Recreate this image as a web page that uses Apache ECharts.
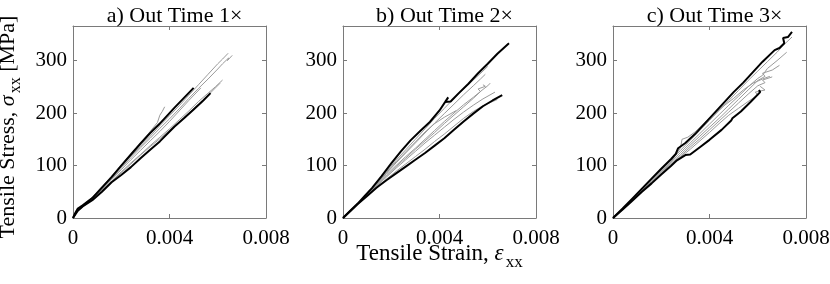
<!DOCTYPE html>
<html>
<head>
<meta charset="utf-8">
<script src="https://cdn.jsdelivr.net/npm/echarts@6/dist/echarts.min.js"></script>
<style>
  html, body { margin: 0; padding: 0; background: #fff; }
  #chart { width: 830px; height: 284px; }
</style>
</head>
<body>
<div id="chart"></div>
<script>
// panel titles and axis ticks
const titles = ['a) Out Time 1\u00d7', 'b) Out Time 2\u00d7', 'c) Out Time 3\u00d7'];
const xTicks = [0, 0.004, 0.008];
const yTicks = [0, 100, 200, 300];
const yTop = 366;

// a) Out Time 1x  -- black = bounding curves, gray = individual tests
const upperA = [[0,0],[0.0001,10],[0.0002,18],[0.0004,24],[0.0008,38],[0.0012,58],[0.0016,78],[0.002,100],[0.0024,121],[0.0028,142],[0.0032,162],[0.0036,180],[0.00352,176],[0.0038,190],[0.0042,210],[0.0046,229],[0.005,248]];
const lowerA = [[0,0],[0.0002,14],[0.0004,22],[0.0008,34],[0.0012,50],[0.0016,68],[0.002,82],[0.0024,97],[0.0028,114],[0.0032,130],[0.0036,146],[0.0039,160],[0.00383,157],[0.0042,174],[0.0046,190],[0.005,207],[0.0054,224],[0.0057,238]];
const grayA1 = [[0,0],[0.0002,15],[0.0004,22],[0.0008,38],[0.0012,56],[0.0016,75],[0.002,95],[0.0024,115],[0.0028,134],[0.0032,152],[0.0036,171],[0.004,189],[0.0044,208],[0.0048,228],[0.0052,247],[0.0056,265],[0.006,284],[0.0062,294],[0.00645,305],[0.0064,300],[0.0066,310]];
const grayA2 = [[0,0],[0.0002,16],[0.0004,23],[0.0008,39],[0.0012,58],[0.0016,78],[0.002,98],[0.0024,118],[0.0028,137],[0.0032,156],[0.0036,176],[0.004,195],[0.0044,214],[0.0048,234],[0.0052,254],[0.0056,274],[0.006,294],[0.0062,303],[0.00643,314]];
const grayA3 = [[0,0],[0.0002,14],[0.0004,21],[0.0008,36],[0.0012,53],[0.0016,70],[0.002,88],[0.0024,105],[0.0028,121],[0.0032,138],[0.0036,154],[0.004,170],[0.0044,187],[0.0048,204],[0.0052,222],[0.0056,238],[0.0059,250],[0.0062,263]];
const grayA4 = [[0,0],[0.0002,14],[0.0004,21],[0.0008,35],[0.0012,52],[0.0016,69],[0.002,86],[0.0024,103],[0.0028,120],[0.0032,136],[0.0036,151],[0.004,167],[0.0044,183],[0.0048,200],[0.0052,217],[0.0056,234],[0.0061,257]];
const grayA5 = [[0,0],[0.0002,17],[0.0004,24],[0.0008,40],[0.0012,60],[0.0016,80],[0.002,101],[0.0024,122],[0.0028,143],[0.0032,165],[0.0035,182],[0.0036,196],[0.0037,203],[0.0038,212]];
const grayA6 = [[0,0],[0.0002,15],[0.0004,22],[0.0008,37],[0.0012,55],[0.0016,73],[0.002,92],[0.0024,111],[0.0028,129],[0.0032,147],[0.0036,165],[0.004,184],[0.0044,204],[0.0048,224],[0.0053,248]];

// b) Out Time 2x
const upperB = [[0,0],[0.0003,14],[0.0006,27],[0.0009,42],[0.0012,57],[0.0016,80],[0.002,104],[0.0024,127],[0.0028,148],[0.0032,166],[0.0036,183],[0.004,205],[0.00436,230],[0.00423,221],[0.00446,222],[0.0048,238],[0.0052,256],[0.0056,276],[0.006,294],[0.0064,313],[0.00688,333]];
const lowerB = [[0,0],[0.0003,13],[0.0006,26],[0.001,42],[0.0014,58],[0.0018,72],[0.0022,85],[0.0026,98],[0.003,111],[0.0034,124],[0.0038,138],[0.0042,152],[0.0046,168],[0.005,184],[0.0054,199],[0.0058,213],[0.0062,224],[0.0066,234]];
const grayB1 = [[0,0],[0.0003,14],[0.0006,27],[0.001,45],[0.0014,66],[0.0018,88],[0.0022,110],[0.0026,130],[0.003,150],[0.0034,170],[0.0038,190],[0.0042,209],[0.0046,228],[0.005,246],[0.0054,263],[0.0058,280],[0.006,289]];
const grayB2 = [[0,0],[0.0003,14],[0.0006,27],[0.001,44],[0.0014,64],[0.0018,85],[0.0022,105],[0.0026,124],[0.003,143],[0.0034,162],[0.0038,181],[0.0042,199],[0.0046,217],[0.005,235],[0.0054,252],[0.0057,265],[0.0059,274]];
const grayB3 = [[0,0],[0.0003,13],[0.0006,27],[0.001,44],[0.0014,63],[0.0018,82],[0.0022,100],[0.0026,117],[0.003,133],[0.0034,150],[0.0038,167],[0.0042,184],[0.0046,200],[0.005,216],[0.0054,230],[0.0058,245],[0.006,252],[0.0061,257]];
const grayB4 = [[0,0],[0.0003,13],[0.0006,26],[0.001,43],[0.0014,61],[0.0018,78],[0.0022,95],[0.0026,111],[0.003,127],[0.0034,143],[0.0038,158],[0.0042,173],[0.0046,188],[0.005,202],[0.0054,215],[0.0058,227],[0.0063,240]];
const grayB5 = [[0,0],[0.0003,14],[0.0006,27],[0.001,44],[0.0014,62],[0.0018,80],[0.0022,98],[0.0026,114],[0.003,131],[0.0034,147],[0.0038,163],[0.0042,180],[0.0046,196],[0.005,212],[0.0054,228],[0.0057,241],[0.0056,246],[0.0059,251],[0.0058,254]];
const grayB6 = [[0,0],[0.0003,13],[0.0006,26],[0.001,42],[0.0014,59],[0.0018,74],[0.0022,89],[0.0026,103],[0.003,117],[0.0034,131],[0.0038,146],[0.0042,160],[0.0046,175],[0.005,190],[0.0054,203],[0.0058,214],[0.0064,226]];
const grayB7 = [[0,0],[0.0003,14],[0.0006,27],[0.001,45],[0.0014,65],[0.0018,86],[0.0022,107],[0.0026,126],[0.003,145],[0.0034,164],[0.0038,180],[0.0042,192],[0.0047,205]];

// c) Out Time 3x
const upperC = [[0,0],[0.0004,18],[0.0008,37],[0.0012,56],[0.0016,75],[0.002,94],[0.0024,112],[0.0026,122],[0.0027,133],[0.003,143],[0.0034,160],[0.0038,180],[0.0042,200],[0.0046,220],[0.005,240],[0.0054,258],[0.0058,278],[0.0062,298],[0.0067,320],[0.0069,324],[0.0071,333],[0.00705,343],[0.00725,345],[0.00742,355]];
const lowerC = [[0,0],[0.0004,16],[0.0008,33],[0.0012,50],[0.0016,66],[0.002,83],[0.0024,99],[0.00265,110],[0.003,120],[0.0032,121],[0.0036,135],[0.004,149],[0.0045,168],[0.0049,186],[0.00495,190],[0.0053,203],[0.0057,221],[0.0061,240],[0.00605,244]];
const grayC1 = [[0,0],[0.0004,18],[0.0008,36],[0.0012,55],[0.0016,73],[0.002,92],[0.0024,110],[0.0028,129],[0.0032,148],[0.0036,167],[0.004,186],[0.0044,205],[0.0048,224],[0.0052,243],[0.0056,262],[0.006,280],[0.0064,298],[0.0068,316],[0.0071,331],[0.00742,345]];
const grayC2 = [[0,0],[0.0004,17],[0.0008,35],[0.0012,53],[0.0016,71],[0.002,89],[0.0024,107],[0.0028,125],[0.0032,143],[0.0036,161],[0.004,179],[0.0044,197],[0.0048,215],[0.0052,232],[0.0056,250],[0.006,266],[0.0062,272],[0.0064,285],[0.0068,300],[0.0072,316]];
const grayC3 = [[0,0],[0.0004,17],[0.0008,34],[0.0012,52],[0.0016,69],[0.002,87],[0.0024,104],[0.0028,121],[0.0032,139],[0.0036,156],[0.004,173],[0.0044,190],[0.0048,208],[0.0052,226],[0.0056,244],[0.006,262],[0.0063,270],[0.0062,276],[0.0066,282],[0.0069,291]];
const grayC4 = [[0,0],[0.0004,17],[0.0008,34],[0.0012,51],[0.0016,68],[0.002,85],[0.0024,102],[0.0028,118],[0.0032,135],[0.0036,151],[0.004,168],[0.0044,185],[0.0048,202],[0.0052,219],[0.0056,236],[0.006,252],[0.0063,258],[0.0062,263],[0.0066,269]];
const grayC5 = [[0,0],[0.0004,16],[0.0008,34],[0.0012,51],[0.0016,67],[0.002,84],[0.0024,100],[0.0028,116],[0.0032,131],[0.0036,147],[0.004,163],[0.0044,180],[0.0048,196],[0.0052,209],[0.0056,222],[0.006,234],[0.0059,240],[0.0063,244],[0.0061,251]];
const grayC6 = [[0,0],[0.0004,17],[0.0008,35],[0.0012,53],[0.0016,71],[0.002,89],[0.0024,107],[0.0028,134],[0.00286,150],[0.0031,154],[0.0034,164],[0.0038,182],[0.0042,198],[0.0046,214],[0.005,228],[0.0054,244],[0.0058,257],[0.0062,265],[0.0065,270]];

const panels = [
  { left: 73,  upper: upperA, lower: lowerA, grays: [grayA1, grayA2, grayA3, grayA4, grayA5, grayA6] },
  { left: 343, upper: upperB, lower: lowerB, grays: [grayB1, grayB2, grayB3, grayB4, grayB5, grayB6, grayB7] },
  { left: 613, upper: upperC, lower: lowerC, grays: [grayC1, grayC2, grayC3, grayC4, grayC5, grayC6] }
];

const font = 'Liberation Serif';
const axisColor = '#7a7a7a';
const plotW = 193, plotH = 192, plotTop = 26;

function nameStyle(size, pad) {
  return {
    fontFamily: font, fontSize: size, color: '#000', padding: pad,
    rich: {
      g: { fontFamily: font, fontSize: size, fontStyle: 'italic', color: '#000' },
      s: { fontFamily: font, fontSize: size - 6, color: '#000', padding: [size - 6, 0, 0, 2] }
    }
  };
}

const grid = [], xAxis = [], yAxis = [], series = [], title = [];

panels.forEach((p, i) => {
  grid.push({ left: p.left, top: plotTop, width: plotW, height: plotH, containLabel: false, outerBoundsMode: 'none' });
  title.push({
    text: titles[i], left: p.left + plotW / 2, top: 0, textAlign: 'center',
    textStyle: { fontFamily: font, fontSize: 22, fontWeight: 'normal', color: '#000' }
  });
  const xBase = {
    gridIndex: i, type: 'value', min: xTicks[0], max: xTicks[xTicks.length - 1],
    interval: xTicks[1] - xTicks[0],
    axisLine: { show: true, onZero: false, lineStyle: { color: axisColor, width: 1 } },
    axisTick: { show: true, inside: true, length: 4, lineStyle: { color: axisColor } },
    splitLine: { show: false }
  };
  const yBase = {
    gridIndex: i, type: 'value', min: 0, max: yTop, interval: yTicks[1] - yTicks[0],
    axisLine: { show: true, onZero: false, lineStyle: { color: axisColor, width: 1 } },
    axisTick: { show: true, inside: true, length: 4, lineStyle: { color: axisColor } },
    splitLine: { show: false }
  };
  xAxis.push(Object.assign({}, xBase, {
    position: 'bottom',
    axisLabel: { margin: 10, fontFamily: font, fontSize: 21, color: '#000', formatter: v => String(v) },
    name: i === 1 ? 'Tensile Strain, {g|\u03b5}{s|xx}' : '',
    nameLocation: 'middle', nameGap: 19, nameMoveOverlap: false,
    nameTextStyle: nameStyle(23, 0)
  }));
  xAxis.push(Object.assign({}, xBase, { position: 'top', axisLabel: { show: false } }));
  yAxis.push(Object.assign({}, yBase, {
    position: 'left',
    axisLabel: { margin: 6, fontFamily: font, fontSize: 21, color: '#000', showMaxLabel: false },
    name: i === 0 ? 'Tensile Stress, {g|\u03c3}{s|xx} [MPa]' : '',
    nameLocation: 'middle', nameGap: 49, nameMoveOverlap: false,
    nameTextStyle: nameStyle(22, [0, 10, 0, 0])
  }));
  yAxis.push(Object.assign({}, yBase, { position: 'right', axisLabel: { show: false } }));

  p.grays.forEach(g => {
    series.push({
      type: 'line', xAxisIndex: i * 2, yAxisIndex: i * 2, data: g,
      showSymbol: false, silent: true,
      lineStyle: { color: '#9a9a9a', width: 1 }
    });
  });
  [p.upper, p.lower].forEach(b => {
    series.push({
      type: 'line', xAxisIndex: i * 2, yAxisIndex: i * 2, data: b,
      showSymbol: false, silent: true,
      lineStyle: { color: '#000', width: 2 }
    });
  });
});

const chart = echarts.init(document.getElementById('chart'));
chart.setOption({
  animation: false,
  backgroundColor: '#fff',
  title: title,
  grid: grid,
  xAxis: xAxis,
  yAxis: yAxis,
  series: series
});
</script>
</body>
</html>
